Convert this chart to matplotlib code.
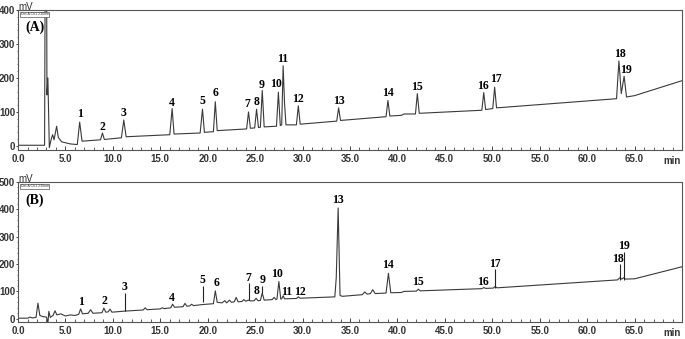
import numpy as np
import matplotlib
matplotlib.use('Agg')
from matplotlib import pyplot as plt, ticker

# Panel (A): standard mixture trace, time (min) and signal (mV)
a_time = [0.0, 2.8, 2.95, 3.05, 3.15, 3.3, 3.5, 3.65, 3.8, 3.95, 4.07, 4.25, 4.6, 5.5,
          6.25, 6.5, 6.75, 8.7, 8.9, 9.1, 10.9, 11.15, 11.4, 16.0, 16.25, 16.45,
          19.2, 19.45, 19.65, 20.6, 20.8, 21.0, 24.1, 24.3, 24.5, 24.95, 25.15, 25.35,
          25.55, 25.75, 25.95, 27.25, 27.45, 27.65, 27.8, 27.95, 28.1, 28.25,
          29.35, 29.55, 29.75, 33.6, 33.8, 34.0, 38.8, 39.0, 39.2, 40.4, 40.7, 41.9,
          42.1, 42.3, 48.9, 49.1, 49.3, 50.05, 50.25, 50.45, 63.1, 63.35, 63.6, 63.9,
          64.15, 65.0, 70.0]
a_mv = [2, 2, 1200, 150, 200, -5, 20, 33, 18, 40, 58, 25, 12, 6,
        4, 70, 14, 18, 38, 19, 24, 76, 27, 33, 110, 35,
        38, 108, 40, 42, 130, 45, 50, 100, 52, 53, 108, 54,
        55, 163, 56, 58, 158, 60, 62, 236, 125, 62,
        62, 118, 64, 73, 112, 75, 86, 134, 88, 90, 94, 94,
        154, 96, 105, 157, 107, 110, 173, 112, 139, 250, 154, 205,
        144, 148, 192]

a_peak_ids = ['1', '2', '3', '4', '5', '6', '7', '8', '9', '10',
              '11', '12', '13', '14', '15', '16', '17', '18', '19']
a_label_t = [6.55, 8.9, 11.15, 16.2, 19.4, 20.8, 24.2, 25.1, 25.7, 27.2,
             27.95, 29.5, 33.8, 39.0, 42.1, 49.0, 50.4, 63.5, 64.1]
a_label_mv = [93, 57, 96, 127, 133, 156, 122, 128, 180, 183,
              255, 137, 131, 156, 173, 176, 197, 270, 224]

# Panel (B): sample trace
b_time = [0.0, 1.0, 1.25, 1.5, 1.9, 2.1, 2.3, 2.6, 3.0, 3.15, 3.25, 3.4, 3.7, 3.9, 4.1,
          4.5, 5.0, 5.5, 6.0, 6.4, 6.6, 6.8, 7.4, 7.65, 7.9, 8.85, 9.05, 9.25, 9.5,
          9.7, 9.9, 11.3, 13.2, 13.4, 13.6, 15.0, 15.2, 15.4, 16.1, 16.3, 16.5, 17.4,
          17.6, 17.8, 18.1, 18.3, 18.5, 19.5, 20.6, 20.8, 21.0, 21.5, 21.8, 22.0, 22.3,
          22.5, 22.8, 23.0, 23.2, 23.6, 23.8, 24.0, 24.3, 24.5, 24.9, 25.1, 25.3,
          25.55, 25.75, 25.95, 26.8, 27.0, 27.2, 27.3, 27.5, 27.7, 27.8, 27.95, 28.1,
          29.35, 29.55, 29.75, 33.4, 33.55, 33.75, 33.95, 34.2, 36.3, 36.55, 36.8,
          37.15, 37.4, 37.65, 38.8, 39.05, 39.3, 40.4, 40.7, 42.0, 42.2, 42.4, 48.9,
          49.1, 49.3, 50.1, 50.3, 50.5, 63.2, 63.45, 63.65, 63.85, 64.05, 65.0, 70.0]
b_mv = [2, 2, 6, 3, 5, 57, 12, 8, 6, -16, 27, 5, 12, 29, 14,
        18, 10, 14, 12, 16, 36, 18, 20, 33, 20, 22, 39, 24, 25,
        35, 24, 28, 32, 40, 33, 36, 40, 37, 40, 53, 42, 44,
        56, 46, 47, 53, 48, 52, 55, 102, 60, 58, 66, 58, 68,
        60, 62, 78, 62, 63, 70, 64, 68, 65, 66, 75, 66,
        67, 94, 68, 70, 78, 70, 72, 136, 72, 73, 84, 73,
        74, 80, 75, 80, 150, 405, 85, 82, 88, 98, 90,
        92, 106, 92, 94, 166, 95, 96, 100, 101, 108, 102, 110,
        114, 111, 112, 118, 113, 142, 150, 145, 150, 145, 146, 190]

b_label_t = [6.6, 9.06, 11.27, 16.2, 19.4, 20.9, 24.3, 25.15, 25.8, 27.3,
             28.3, 29.7, 33.7, 39.0, 42.2, 49.0, 50.3, 63.3, 63.9]
b_label_mv = [63, 66, 115, 75, 142, 130, 148, 100, 142, 163,
              99, 97, 436, 197, 134, 136, 200, 217, 267]

# Marker lines drawn in panel (B): time, bottom, top (mV)
b_marker_t = [11.27, 19.46, 24.34, 25.74, 50.26, 63.43, 63.86]
b_marker_lo = [30, 61, 67, 94, 114, 142, 142]
b_marker_hi = [94, 118, 130, 118, 182, 199, 243]

x_ticks = [0, 5, 10, 15, 20, 25, 30, 35, 40, 45, 50, 55, 60, 65]

fig = plt.figure(figsize=(6.85, 3.39), dpi=100)
ax_a = fig.add_axes([0.0263, 0.5575, 0.9693, 0.4130])
ax_b = fig.add_axes([0.0263, 0.0501, 0.9693, 0.4130])

line_col = '#3a3a3a'
serif = ['Liberation Serif', 'DejaVu Serif']
sans = ['Liberation Sans', 'DejaVu Sans']
narrow = ['Liberation Sans Narrow', 'Liberation Sans', 'DejaVu Sans']


def style_axis(ax, ytop, ybot):
    ax.set_xlim(0, 70)
    ax.set_ylim(ybot, ytop)
    for s in ax.spines.values():
        s.set_color('#555555')
        s.set_linewidth(0.8)
    ax.xaxis.set_major_locator(ticker.FixedLocator(x_ticks))
    ax.xaxis.set_minor_locator(ticker.MultipleLocator(1))
    ax.xaxis.set_major_formatter(ticker.FuncFormatter(lambda v, p: '%.1f' % v))
    ax.yaxis.set_major_locator(ticker.MultipleLocator(100))
    ax.yaxis.set_minor_locator(ticker.MultipleLocator(20))
    ax.tick_params(axis='x', which='major', direction='in', length=3, width=0.7,
                   colors='#444444', pad=3)
    ax.tick_params(axis='x', which='minor', direction='in', length=2, width=0.6,
                   colors='#444444')
    ax.tick_params(axis='y', which='major', direction='out', length=1.5, width=0.7,
                   colors='#444444', pad=0.5)
    ax.tick_params(axis='y', which='minor', direction='out', length=1.0, width=0.5,
                   colors='#444444')
    for lab in ax.get_xticklabels():
        lab.set_fontfamily(sans)
        lab.set_fontweight('bold')
        lab.set_fontsize(7)
        lab.set_color('#333333')
    for lab in ax.get_yticklabels():
        lab.set_fontfamily(narrow)
        lab.set_fontweight('bold')
        lab.set_fontsize(7)
        lab.set_color('#333333')
    ax.annotate('mV', xy=(0, 1), xycoords='axes fraction', xytext=(0, -1.5),
                textcoords='offset points', fontsize=7, family=sans, color='#333333',
                ha='left', va='bottom')
    ax.annotate('Det.A Ch1 230nm', xy=(0, 1), xycoords='axes fraction',
                xytext=(2, -1.5), textcoords='offset points', fontsize=2.5,
                family=sans, color='#333333', ha='left', va='top', zorder=5,
                bbox=dict(boxstyle='square,pad=0.15', fc='white', ec='#555555', lw=0.5))
    ax.annotate('min', xy=(70, 0), xycoords=('data', 'axes fraction'),
                xytext=(-1, -4), textcoords='offset points', ha='right', va='top',
                fontsize=7, family=sans, fontweight='bold', color='#333333')


# (A)
ax_a.plot(a_time, a_mv, color=line_col, lw=0.8, clip_on=True)
style_axis(ax_a, 400, -12)
for pid, t, y in zip(a_peak_ids, a_label_t, a_label_mv):
    ax_a.text(t, y, pid, ha='center', va='center', fontsize=8.5,
              fontweight='bold', family=serif)
ax_a.text(1.8, 348, '(A)', ha='center', va='center', fontsize=10,
          fontweight='bold', family=serif)

# (B)
ax_b.plot(b_time, b_mv, color=line_col, lw=0.8, clip_on=True)
ax_b.vlines(b_marker_t, b_marker_lo, b_marker_hi, color='#222222', lw=0.8)
style_axis(ax_b, 500, -12)
for pid, t, y in zip(a_peak_ids, b_label_t, b_label_mv):
    ax_b.text(t, y, pid, ha='center', va='center', fontsize=8.5,
              fontweight='bold', family=serif)
ax_b.text(1.8, 433, '(B)', ha='center', va='center', fontsize=10,
          fontweight='bold', family=serif)

fig.savefig('out.png', dpi=100)
